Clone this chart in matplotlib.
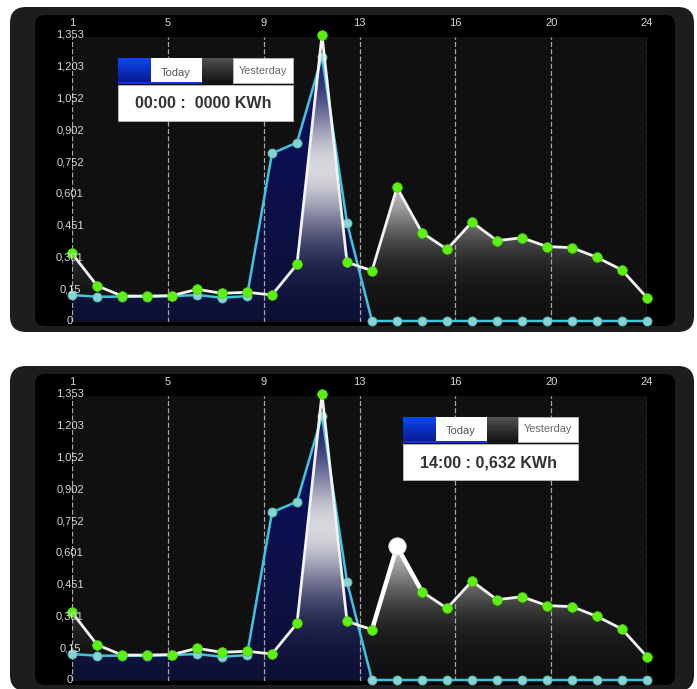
import numpy as np
import matplotlib
matplotlib.use("Agg")
import matplotlib.pyplot as plt
from matplotlib.patches import FancyBboxPatch, Rectangle, Polygon

# ---------------- data ----------------
hours = list(range(1, 25))
today = [0.123, 0.115, 0.115, 0.115, 0.118, 0.123, 0.110, 0.118, 0.793, 0.844,
         1.250, 0.465, 0.0, 0.0, 0.0, 0.0, 0.0, 0.0, 0.0, 0.0, 0.0, 0.0, 0.0, 0.0]
yesterday = [0.320, 0.167, 0.118, 0.118, 0.120, 0.150, 0.131, 0.136, 0.123, 0.268,
             1.353, 0.278, 0.238, 0.632, 0.418, 0.339, 0.468, 0.380, 0.394, 0.352,
             0.347, 0.301, 0.241, 0.110]
y_tick_values = [0, 0.150, 0.301, 0.451, 0.601, 0.752, 0.902, 1.052, 1.203, 1.353]
y_tick_labels = ["0", "0,15", "0,301", "0,451", "0,601", "0,752", "0,902",
                 "1,052", "1,203", "1,353"]
x_tick_labels = ["1", "5", "9", "13", "16", "20", "24"]
series_names = ["Today", "Yesterday"]
readout_texts = ["00:00 :  0000 KWh", "14:00 : 0,632 KWh"]
highlight_hours = [None, 14]

# ---------------- layout ----------------
W, H = 697, 689
FONT = "Liberation Sans"
fig = plt.figure(figsize=(W / 100, H / 100), dpi=100)
fig.patch.set_facecolor("white")
bg = fig.add_axes([0, 0, 1, 1])
bg.set_xlim(0, W)
bg.set_ylim(H, 0)
bg.axis("off")


def ax_rect(x0, y0, x1, y1):
    return [x0 / W, 1 - y1 / H, (x1 - x0) / W, (y1 - y0) / H]


def grad_rect(ov, x0, y0, w, h, top, bot, n=30, z=5):
    top = np.array(top) / 255.0
    bot = np.array(bot) / 255.0
    for i in range(n):
        t = i / (n - 1)
        c = top * (1 - t) + bot * t
        ov.add_patch(Rectangle((x0, y0 + h * i / n), w, h / n + 0.6, fc=c, ec="none", zorder=z))


def draw_legend(ov, x0, y0, readout):
    grad_rect(ov, x0, y0, 33, 25, (10, 70, 245), (8, 25, 140))
    ov.add_patch(Rectangle((x0 + 33, y0), 51, 25, fc="white", ec="none", zorder=5))
    grad_rect(ov, x0 + 84, y0, 31, 25, (80, 80, 80), (18, 18, 18))
    ov.add_patch(Rectangle((x0 + 115, y0), 60, 25, fc="white", ec="#bbbbbb", lw=0.6, zorder=5))
    ov.add_patch(Rectangle((x0, y0 + 23.5), 84, 2.5, fc="#1a2ee0", ec="none", zorder=6))
    ov.add_patch(Rectangle((x0, y0 + 27), 175, 36, fc="white", ec="#bbbbbb", lw=0.6, zorder=5))
    ov.text(x0 + 58, y0 + 14.5, series_names[0], fontsize=8, color="#555555",
            family=FONT, ha="center", va="center", zorder=7)
    ov.text(x0 + 145, y0 + 12.5, series_names[1], fontsize=7.8, color="#666666",
            family=FONT, ha="center", va="center", zorder=7)
    ov.text(x0 + 85, y0 + 45.5, readout, fontsize=11.6, color="#333333",
            family=FONT, weight="bold", ha="center", va="center", zorder=7)


def draw_panel(dy, hl):
    bg.add_patch(FancyBboxPatch((10, 7 + dy), 684, 325,
                                boxstyle="round,pad=0,rounding_size=16",
                                fc="#1d1d1d", ec="none", zorder=1))
    bg.add_patch(FancyBboxPatch((35, 15 + dy), 640, 311,
                                boxstyle="round,pad=0,rounding_size=10",
                                fc="#000000", ec="none", zorder=2))
    ax = fig.add_axes(ax_rect(72, 37 + dy, 647, 322 + dy))
    ax.set_facecolor("#101010")
    for s in ax.spines.values():
        s.set_visible(False)
    ax.set_xticks([])
    ax.set_yticks([])
    vmax = y_tick_values[-1]

    # today fill (navy gradient)
    tpoly = Polygon([(hours[0], 0)] + list(zip(hours, today)) + [(hours[-1], 0)],
                    closed=True, transform=ax.transData)
    n = 200
    v = np.linspace(vmax, 0, n)[:, None]
    t = 1 - v / vmax
    top_c = np.array([12, 16, 105]) / 255.0
    bot_c = np.array([14, 16, 52]) / 255.0
    img = top_c[None, None, :] * (1 - t[:, :, None]) + bot_c[None, None, :] * t[:, :, None]
    im = ax.imshow(img, extent=(hours[0], hours[-1], 0, vmax), aspect="auto",
                   origin="upper", zorder=1, interpolation="bilinear")
    im.set_clip_path(tpoly)

    # yesterday fill (white glow gradient)
    ypoly = Polygon([(hours[0], 0)] + list(zip(hours, yesterday)) + [(hours[-1], 0)],
                    closed=True, transform=ax.transData)
    alpha = np.exp(-((v - 0.72) ** 2) / (2 * 0.22 ** 2))
    rgba = np.ones((n, 1, 4))
    rgba[:, :, 0:3] = 0.92
    rgba[:, :, 3] = alpha * 0.92
    im2 = ax.imshow(rgba, extent=(hours[0], hours[-1], 0, vmax), aspect="auto",
                    origin="upper", zorder=2, interpolation="bilinear")
    im2.set_clip_path(ypoly)

    # vertical dashed grid
    gx = [hours[0] + (hours[-1] - hours[0]) * j / 6 for j in range(7)]
    for x in gx:
        ax.axvline(x, color="#a8a8a8", lw=0.9, ls=(0, (4, 1.8)), zorder=3)

    # lines
    ax.plot(hours, today, color="#3fc6de", lw=1.8, zorder=4, clip_on=False)
    ax.plot(hours, today, ls="none", marker="o", ms=6.5, mfc="#84d4d2",
            mec="#5bb8b8", mew=0.6, zorder=4.5, clip_on=False)
    ax.plot(hours, yesterday, color="#f2f2f2", lw=2.0, zorder=5, clip_on=False)
    if hl is not None:
        i = hours.index(hl)
        ax.plot(hours[i - 1:i + 2], yesterday[i - 1:i + 2], color="white", lw=3.2,
                zorder=5.5, clip_on=False, solid_capstyle="round")
    ax.plot(hours, yesterday, ls="none", marker="o", ms=7, mfc="#5ef012",
            mec="#4ad000", mew=0.5, zorder=6, clip_on=False)
    if hl is not None:
        i = hours.index(hl)
        ax.plot([hours[i]], [yesterday[i]], ls="none", marker="o", ms=12.5,
                mfc="white", mec="#dddddd", mew=0.6, zorder=7, clip_on=False)

    ax.set_xlim(hours[0], hours[-1])
    ax.set_ylim(-0.0047, 1.3435)

    # y labels (centered on first gridline)
    for val, lab in zip(y_tick_values, y_tick_labels):
        ax.text(hours[0] - 0.08, val, lab, fontsize=8, color="#d8d8d8", family=FONT,
                ha="center", va="center", zorder=8, clip_on=False)
    # top labels
    for x, lab in zip(gx, x_tick_labels):
        ax.text(x, 1.049, lab, fontsize=8, color="#d8d8d8", family=FONT,
                ha="center", va="center", transform=ax.get_xaxis_transform(),
                zorder=8, clip_on=False)
    return ax


panel_offsets = [0, 359]
legend_x0 = [118, 403]
for dy, hl in zip(panel_offsets, highlight_hours):
    draw_panel(dy, hl)

# overlay for legend boxes (above the chart axes)
ov = fig.add_axes([0, 0, 1, 1])
ov.set_xlim(0, W)
ov.set_ylim(H, 0)
ov.axis("off")
ov.patch.set_alpha(0)
for dy, lx, txt in zip(panel_offsets, legend_x0, readout_texts):
    draw_legend(ov, lx, 58 + dy, txt)

fig.savefig("out.png", dpi=100, facecolor="white")
